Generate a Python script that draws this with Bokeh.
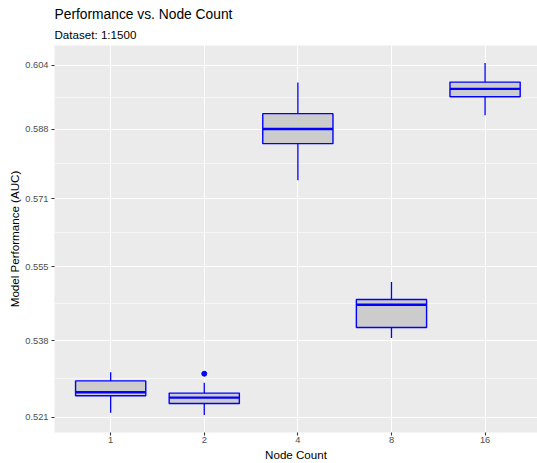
import math
from bokeh.plotting import figure
from bokeh.models import Range1d, FixedTicker, PrintfTickFormatter, Title, ColumnDataSource
from bokeh.embed import file_html
from bokeh.resources import INLINE

# ---- data ----
categories = ["1", "2", "4", "8", "16"]
whisker_low = [0.5220, 0.5215, 0.5755, 0.5386, 0.5914]
q1 = [0.5257, 0.5240, 0.5844, 0.5410, 0.5960]
median = [0.5265, 0.5253, 0.5880, 0.5462, 0.5980]
q3 = [0.5290, 0.5263, 0.5918, 0.5474, 0.5997]
whisker_high = [0.5309, 0.5286, 0.5996, 0.5514, 0.6045]
outlier_cat = ["2"]
outlier_val = [0.5306]

y_ticks = [0.521, 0.538, 0.555, 0.571, 0.588, 0.604]
y_tick_labels = ["0.521", "0.538", "0.555", "0.571", "0.588", "0.604"]

title_text = "Performance vs. Node Count"
subtitle_text = "Dataset: 1:1500"
x_label = "Node Count"
y_label = "Model Performance (AUC)"

# ---- derived ----
pos = list(range(1, len(categories) + 1))
cat_pos = {c: i for c, i in zip(categories, pos)}
opos = [cat_pos[c] for c in outlier_cat]
box_w = 0.75

all_vals = whisker_low + whisker_high + outlier_val
lmin, lmax = math.log(min(all_vals)), math.log(max(all_vals))
pad = 0.05 * (lmax - lmin)
y_start, y_end = math.exp(lmin - pad), math.exp(lmax + pad)
minor = [math.sqrt(a * b) for a, b in zip(y_ticks[:-1], y_ticks[1:])]

FONT = "Liberation Sans"

p = figure(width=537, height=463, output_backend="svg", toolbar_location=None,
           y_axis_type="log",
           x_range=Range1d(0.4, 5.56), y_range=Range1d(y_start, y_end),
           min_border_left=54, min_border_right=0, min_border_top=45, min_border_bottom=30)

p.background_fill_color = "#EBEBEB"
p.border_fill_color = "white"
p.outline_line_color = None

# titles
sub = Title(text=subtitle_text, align="left", text_font=FONT, text_font_size="11.6px",
            text_font_style="normal", text_color="black", standoff=9, offset=0)
main = Title(text=title_text, align="left", text_font=FONT, text_font_size="13.8px",
             text_font_style="normal", text_color="black", standoff=0, offset=0)
p.add_layout(sub, "above")
p.add_layout(main, "above")

# axes
p.xaxis.ticker = FixedTicker(ticks=pos)
p.xaxis.major_label_overrides = {i: c for i, c in zip(pos, categories)}
p.yaxis.ticker = FixedTicker(ticks=y_ticks, minor_ticks=minor)
p.yaxis.major_label_overrides = {t: l for t, l in zip(y_ticks, y_tick_labels)}
p.yaxis.formatter = PrintfTickFormatter(format="%.3f")

for ax in (p.xaxis, p.yaxis):
    ax.axis_line_color = None
    ax.major_tick_line_color = "#333333"
    ax.major_tick_line_width = 1.1
    ax.major_tick_out = 3
    ax.major_tick_in = 0
    ax.minor_tick_line_color = None
    ax.major_label_text_font = FONT
    ax.major_label_text_font_size = "9.3px"
    ax.major_label_text_color = "#4D4D4D"
    ax.axis_label_text_font = FONT
    ax.axis_label_text_font_size = "11.6px"
    ax.axis_label_text_font_style = "normal"
    ax.axis_label_text_color = "black"

p.xaxis.axis_label = x_label
p.yaxis.axis_label = y_label
p.xaxis.major_label_standoff = 1
p.xaxis.axis_label_standoff = 2
p.yaxis.major_label_standoff = 2
p.yaxis.axis_label_standoff = 1

# grids
p.xgrid.grid_line_color = "white"
p.xgrid.grid_line_width = 1.1
p.ygrid.grid_line_color = "white"
p.ygrid.grid_line_width = 1.1
p.ygrid.minor_grid_line_color = "white"
p.ygrid.minor_grid_line_width = 0.55

src = ColumnDataSource(dict(x=pos, lo=whisker_low, q1=q1, med=median, q3=q3, hi=whisker_high,
                            left=[x - box_w / 2 for x in pos], right=[x + box_w / 2 for x in pos]))

BLUE = "#0000FF"
p.segment(x0="x", y0="lo", x1="x", y1="q1", source=src, line_color=BLUE, line_width=1.3)
p.segment(x0="x", y0="q3", x1="x", y1="hi", source=src, line_color=BLUE, line_width=1.3)
p.vbar(x="x", width=box_w, bottom="q1", top="q3", source=src,
       fill_color="#CCCCCC", line_color=BLUE, line_width=1.4)
p.segment(x0="left", y0="med", x1="right", y1="med", source=src, line_color=BLUE, line_width=2.4)
p.scatter(x=opos, y=outlier_val, size=5, color=BLUE)

open("out.html", "w").write(file_html(p, INLINE))
